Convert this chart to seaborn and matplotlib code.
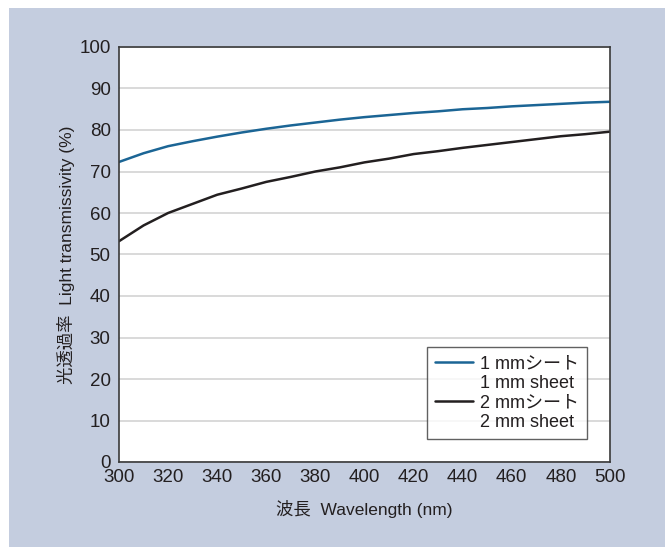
import pandas as pd
import matplotlib.pyplot as plt
import matplotlib.patches as mpatches
from matplotlib.lines import Line2D
import seaborn as sns

# wavelengths (nm) and transmissivity (%)
wavelength = [300, 310, 320, 330, 340, 350, 360, 370, 380, 390, 400,
              410, 420, 430, 440, 450, 460, 470, 480, 490, 500]
sheet_1mm = [72.3, 74.4, 76.1, 77.3, 78.4, 79.4, 80.3, 81.1, 81.8, 82.5, 83.1,
             83.6, 84.1, 84.5, 85.0, 85.3, 85.7, 86.0, 86.3, 86.6, 86.8]
sheet_2mm = [53.2, 57.0, 60.0, 62.2, 64.4, 65.9, 67.5, 68.7, 70.0, 71.0, 72.2,
             73.1, 74.2, 74.9, 75.7, 76.4, 77.1, 77.8, 78.5, 79.0, 79.6]
series_names = ['1 mmシート', '2 mmシート']
series_names_en = ['1 mm sheet', '2 mm sheet']
series_colors = ['#1b6595', '#231f20']

df = pd.concat([
    pd.DataFrame({'wl': wavelength, 'T': sheet_1mm, 'sheet': series_names[0]}),
    pd.DataFrame({'wl': wavelength, 'T': sheet_2mm, 'sheet': series_names[1]}),
], ignore_index=True)

sns.set_style('white')
plt.rcParams['font.family'] = ['Liberation Sans', 'Noto Sans CJK JP', 'DejaVu Sans']
txt = '#231f20'

fig = plt.figure(figsize=(6.65, 5.47), dpi=100, facecolor='white')
# blue-grey panel behind the chart
fig.patches.append(mpatches.Rectangle((9 / 665, 0), 1, 1 - 8 / 547, transform=fig.transFigure,
                                      facecolor='#c4cddf', edgecolor='none', zorder=-1))

ax = fig.add_axes([119 / 665, 85 / 547, 491 / 665, 415 / 547])
ax.set_facecolor('white')

sns.lineplot(data=df, x='wl', y='T', hue='sheet', palette=series_colors,
             linewidth=1.8, ax=ax, legend=False)

ax.set_xlim(300, 500)
ax.set_ylim(0, 100)
ax.set_xticks(range(300, 501, 20))
ax.set_yticks(range(0, 101, 10))
ax.yaxis.grid(True, color='#d3d3d3', linewidth=1.2)
ax.set_axisbelow(True)
for s in ax.spines.values():
    s.set_color('#3a3a3a')
    s.set_linewidth(1.2)
ax.tick_params(axis='both', direction='in', length=7, width=1, color='#3a3a3a',
               labelsize=13.5, labelcolor=txt)
ax.tick_params(axis='x', pad=5)
ax.tick_params(axis='y', pad=6)

ax.set_xlabel('波長  Wavelength (nm)', fontsize=12.5, color=txt)
ax.set_ylabel('光透過率  Light transmissivity (%)', fontsize=12.5, color=txt)
ax.xaxis.set_label_coords(0.5, -0.092)
ax.yaxis.set_label_coords(-0.09, 0.5)

# legend: coloured handle on the Japanese line, English line below it
handles, labels = [], []
for name, name_en, c in zip(series_names, series_names_en, series_colors):
    handles.append(Line2D([], [], color=c, linewidth=1.8))
    labels.append(name)
    handles.append(Line2D([], [], color='none'))
    labels.append(name_en)
leg = ax.legend(handles, labels, loc='lower right', bbox_to_anchor=(0.953, 0.056),
                fontsize=13, frameon=True, fancybox=False, handlelength=2.1,
                handletextpad=0.4, labelspacing=0.13, borderpad=0.45,
                borderaxespad=0)
leg.get_frame().set_edgecolor('#3a3a3a')
leg.get_frame().set_linewidth(1.0)
for t in leg.get_texts():
    t.set_color(txt)

fig.savefig('out.png', dpi=100, facecolor='white')
